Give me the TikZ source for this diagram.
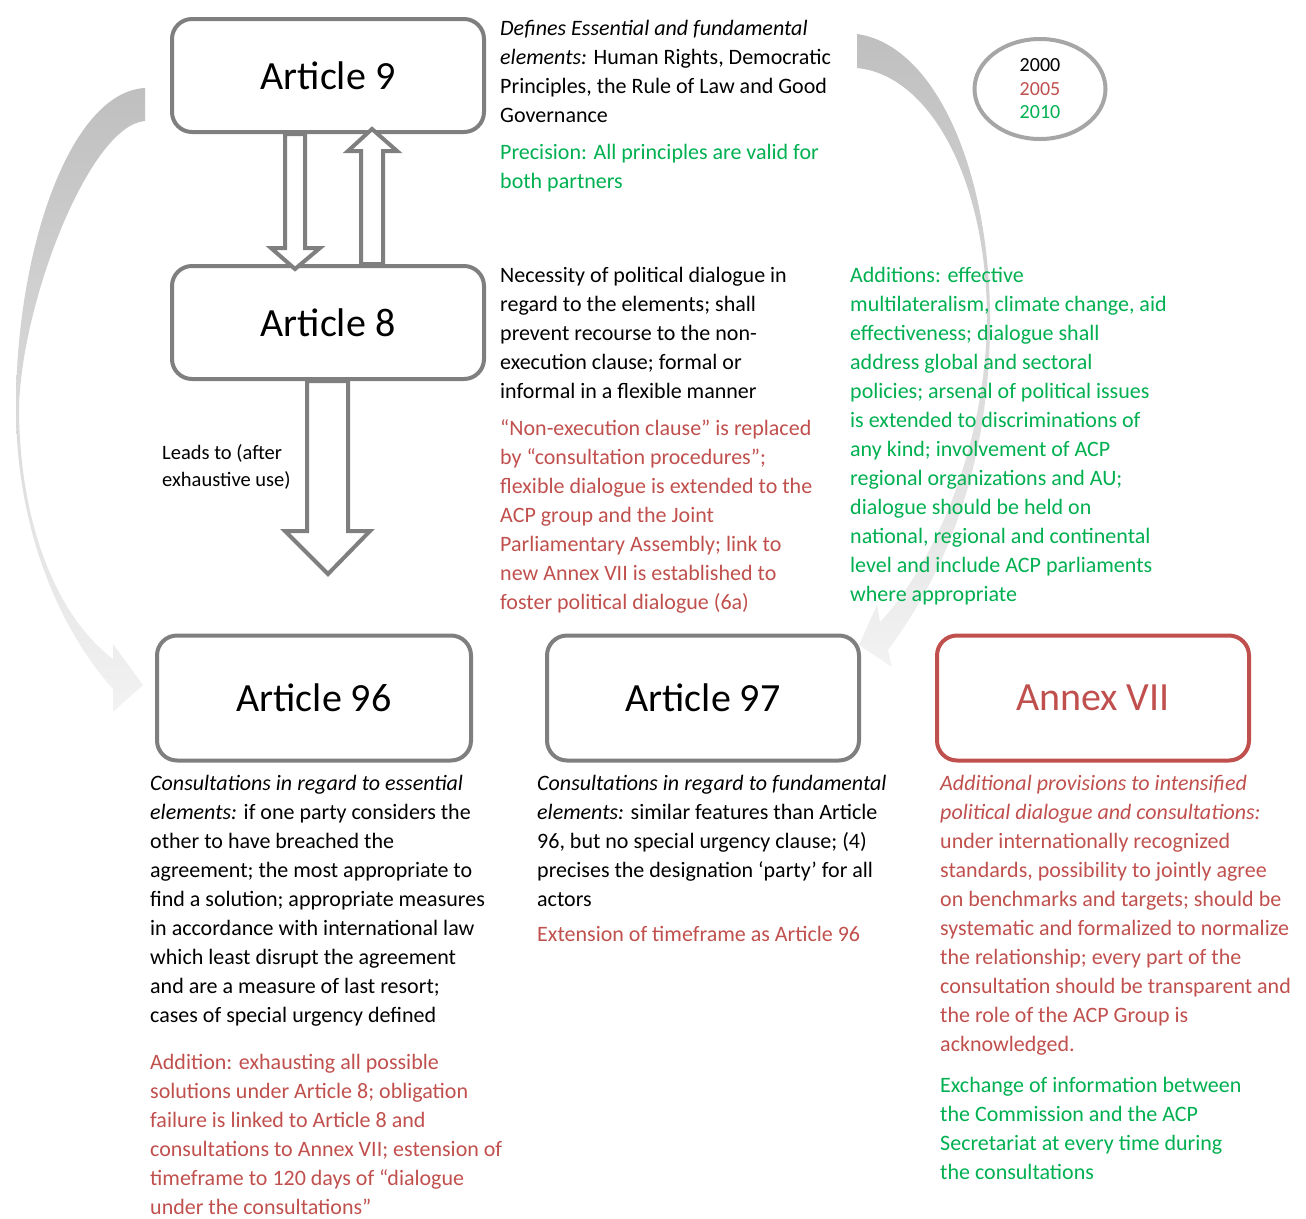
\documentclass[tikz,border=0pt]{standalone}
\usepackage{fontspec}
\setmainfont{Carlito}
\usetikzlibrary{shapes.geometric,calc}
\definecolor{boxgray}{HTML}{7F7F7F}
\definecolor{ellgray}{HTML}{A6A6A6}
\definecolor{redt}{HTML}{C0504D}
\definecolor{greent}{HTML}{00B050}
\begin{document}
\begin{tikzpicture}[x=1pt,y=-1pt,
  box/.style={draw=boxgray, line width=4pt, rounded corners=20pt, fill=white,
    minimum width=312pt, inner sep=0pt, font=\fontsize{40}{48}\selectfont},
  body/.style={anchor=base west, align=left, inner sep=0pt, font=\fontsize{22}{29}\selectfont},
  hollow/.style={draw=boxgray, fill=white, line width=4pt},
  band/.style={top color=gray!50, middle color=gray!24, bottom color=gray!10, draw=none}
]
\useasboundingbox (0,0) rectangle (1306,1218);

% curved grey arrows
\shade[band] (145,88) .. controls (70,92) and (16,250) .. (16,407)
  .. controls (16,530) and (60,630) .. (113,689) -- (113,712) -- (143,685) -- (113,644) -- (113,659)
  .. controls (55,615) and (19,520) .. (19,407) .. controls (22,300) and (90,125) .. (145,121) -- cycle;
\shade[band] (857,34) .. controls (935,45) and (990,170) .. (990,320)
  .. controls (990,450) and (955,560) .. (888,650) -- (892,667) -- (859,645) -- (877,605) -- (880,622)
  .. controls (925,575) and (985,460) .. (987,320) .. controls (987,180) and (930,75) .. (857,68) -- cycle;

% boxes
\node[box, minimum height=113pt] (a9) at (328,75.5) {Article 9};
\node[box, minimum height=113pt] (a8) at (328,322.5) {Article 8};
\node[box, minimum height=125pt, minimum width=314pt] (a96) at (314,698) {Article 96};
\node[box, minimum height=125pt] (a97) at (703,698) {Article 97};
\node[box, minimum height=125pt, draw=redt, text=redt] (ax7) at (1093,698) {Annex VII};

% hollow arrows
\draw[hollow] ($(a9.south)+(-43,0)$) -- ++(0,114) -- ++(-14,0) -- ++(24,21) -- ++(25,-21) -- ++(-15,0) -- ++(0,-114) -- cycle;
\draw[hollow] ($(a8.north)+(33,0)$) -- ++(0,-113) -- ++(-13,0) -- ++(24,-22) -- ++(25,22) -- ++(-14,0) -- ++(0,113) -- cycle;
\draw[hollow] ($(a8.south)+(-21,0)$) -- ++(0,150) -- ++(-22,0) -- ++(43,43) -- ++(42,-43) -- ++(-22,0) -- ++(0,-150) -- cycle;

% ellipse with years
\node[ellipse, draw=ellgray, line width=4pt, minimum width=131pt, minimum height=100pt, inner sep=0pt,
  align=center, font=\fontsize{20}{23.5}\selectfont] (yrs) at (1040,89)
  {2000\\\textcolor{redt}{2005}\\\textcolor{greent}{2010}};

% leads to label (anchor at last baseline)
\node[anchor=base west, align=left, inner sep=0pt, font=\fontsize{20.5}{27}\selectfont] (lead) at (162,486)
  {Leads to (after\\exhaustive use)};

% Article 9 texts
\node[body] (ta1) at (500,122) {\textit{Defines Essential and fundamental}\\
  \textit{elements:} Human Rights, Democratic\\
  Principles, the Rule of Law and Good\\
  Governance};
\node[body, text=greent] (ta2) at (500,188) {Precision: All principles are valid for\\both partners};

% Article 8 texts
\node[body] (tb1) at (500,398) {Necessity of political dialogue in\\
  regard to the elements; shall\\
  prevent recourse to the non-\\
  execution clause; formal or\\
  informal in a flexible manner};
\node[body, text=redt] (tb2) at (500,609) {“Non-execution clause” is replaced\\
  by “consultation procedures”;\\
  flexible dialogue is extended to the\\
  ACP group and the Joint\\
  Parliamentary Assembly; link to\\
  new Annex VII is established to\\
  foster political dialogue (6a)};
\node[body, text=greent] (tc) at (850,601) {Additions: effective\\
  multilateralism, climate change, aid\\
  effectiveness; dialogue shall\\
  address global and sectoral\\
  policies; arsenal of political issues\\
  is extended to discriminations of\\
  any kind; involvement of ACP\\
  regional organizations and AU;\\
  dialogue should be held on\\
  national, regional and continental\\
  level and include ACP parliaments\\
  where appropriate};

% Article 96 texts
\node[body] (td1) at (150,1022) {\textit{Consultations in regard to essential}\\
  \textit{elements:} if one party considers the\\
  other to have breached the\\
  agreement; the most appropriate to\\
  find a solution; appropriate measures\\
  in accordance with international law\\
  which least disrupt the agreement\\
  and are a measure of last resort;\\
  cases of special urgency defined};
\node[body, text=redt] (td2) at (150,1214) {Addition: exhausting all possible\\
  solutions under Article 8; obligation\\
  failure is linked to Article 8 and\\
  consultations to Annex VII; estension of\\
  timeframe to 120 days of “dialogue\\
  under the consultations”};

% Article 97 texts
\node[body] (te1) at (537,906) {\textit{Consultations in regard to fundamental}\\
  \textit{elements:} similar features than Article\\
  96, but no special urgency clause; (4)\\
  precises the designation ‘party’ for all\\
  actors};
\node[body, text=redt] (te2) at (537,941) {Extension of timeframe as Article 96};

% Annex VII texts
\node[body, text=redt] (tf1) at (940,1051) {\textit{Additional provisions to intensified}\\
  \textit{political dialogue and consultations:}\\
  under internationally recognized\\
  standards, possibility to jointly agree\\
  on benchmarks and targets; should be\\
  systematic and formalized to normalize\\
  the relationship; every part of the\\
  consultation should be transparent and\\
  the role of the ACP Group is\\
  acknowledged.};
\node[body, text=greent] (tf2) at (940,1179) {Exchange of information between\\
  the Commission and the ACP\\
  Secretariat at every time during\\
  the consultations};
\end{tikzpicture}
\end{document}
